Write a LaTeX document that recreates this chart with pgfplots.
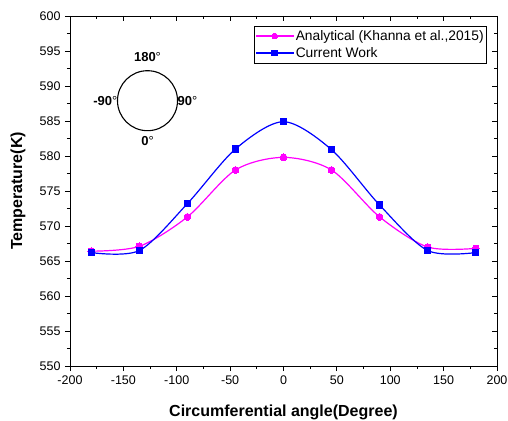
\documentclass[border=0pt]{standalone}
\usepackage{fontspec}
\setmainfont{Liberation Sans}
\usepackage{pgfplots}
\pgfplotsset{compat=1.18}
\definecolor{mag}{RGB}{255,0,255}
\definecolor{blu}{RGB}{0,0,255}
\begin{document}
\begin{tikzpicture}
\path[use as bounding box] (-70pt,-54pt) rectangle (438pt,366pt);
\pgfplotsset{every axis/.append style={
  scale only axis, width=427pt, height=350pt,
  xmin=-200, xmax=200, ymin=550, ymax=600,
  xtick distance=50, ytick distance=5,
  minor x tick num=1, minor y tick num=1,
  major tick length=5pt, minor tick length=3pt,
  every tick/.style={black, line width=0.8pt},
  axis line style={line width=0.9pt},
  /pgf/number format/assume math mode=true,
  tick label style={font=\fontsize{12.5}{14}\selectfont},
}}
\begin{axis}[
  axis on top,
  tick align=outside, xtick pos=bottom, ytick pos=left,
  xlabel={\textbf{Circumferential angle(Degree)}},
  ylabel={\textbf{Temperature(K)}},
  label style={font=\fontsize{16}{18}\selectfont},
  xlabel style={at={(axis description cs:0.5,0)}, anchor=center, yshift=-46pt},
  ylabel style={at={([xshift=-52pt]axis description cs:0,0.5)}, anchor=center},
  xticklabel style={yshift=-1pt},
  yticklabel style={xshift=-1pt},
  /pgf/number format/1000 sep={},
  legend style={at={(rel axis cs:0.9766,0.9714)}, anchor=north east, draw=black, line width=0.6pt,
    font=\fontsize{13.8}{15}\selectfont, inner xsep=1pt, inner ysep=2pt, row sep=1.5pt,
    legend cell align=left},
  legend image code/.code={\draw[mark repeat=2,mark phase=2,#1,line width=1.2pt,mark size=2.9pt] plot coordinates {(0pt,0pt) (18.5pt,0pt) (37pt,0pt)};},
]
\addplot[mag, line width=1.2pt, smooth, mark=*, mark size=3.4pt, mark options={fill=mag, draw=mag, line width=0pt}] coordinates {
(-180,566.4) (-135,567.1) (-90,571.3) (-45,578.0) (0,579.8) (45,578.0) (90,571.3) (135,567.0) (180,566.8)
};
\addlegendentry{Analytical (Khanna et al.,2015)}
\addplot[blu, line width=1.2pt, smooth, mark=square*, mark size=3.3pt, mark options={fill=blu, draw=blu, line width=0pt}] coordinates {
(-180,566.2) (-135,566.5) (-90,573.2) (-45,581.0) (0,584.9) (45,580.9) (90,573.0) (135,566.5) (180,566.2)
};
\addlegendentry{Current Work}
\draw[black, line width=1.1pt] (axis cs:-127.4,587.9) circle[radius=30pt];
\node[font=\fontsize{13}{15}\selectfont] at (axis cs:-127.4,594.2) {\textbf{180}°};
\node[font=\fontsize{13}{15}\selectfont, anchor=west, inner sep=0pt] at (axis cs:-99.3,587.9) {\textbf{90}°};
\node[font=\fontsize{13}{15}\selectfont, anchor=east, inner sep=0pt] at (axis cs:-155.5,587.9) {\textbf{-90}°};
\node[font=\fontsize{13}{15}\selectfont] at (axis cs:-127.4,582.2) {\textbf{0}°};
\end{axis}
\begin{axis}[
  tick align=inside, xtick pos=top, ytick pos=right,
  xticklabels={}, yticklabels={}, axis line style={draw=none},
]
\addplot[draw=none] coordinates {(0,575)};
\end{axis}
\end{tikzpicture}
\end{document}
